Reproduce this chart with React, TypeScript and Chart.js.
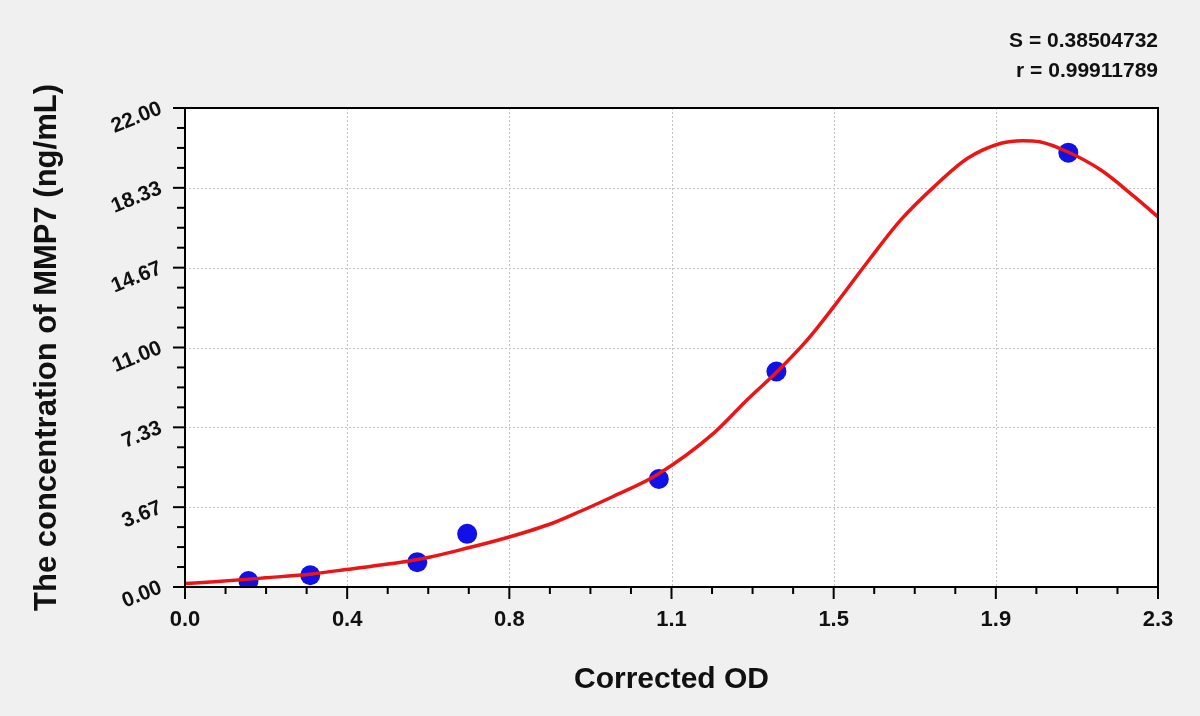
import React, { useEffect, useRef } from "react";
import { Chart, registerables, ChartConfiguration, Plugin } from "chart.js";

Chart.register(...registerables);

// standard points (corrected OD, concentration)
const stdOD = [0.15, 0.296, 0.549, 0.667, 1.12, 1.398, 2.088];
const stdConc = [0.27, 0.54, 1.14, 2.44, 4.96, 9.9, 19.95];

// fitted curve
const fitOD = [
  0, 0.07, 0.19, 0.3, 0.38, 0.55, 0.67, 0.76, 0.87, 0.935, 1.013, 1.116, 1.25,
  1.329, 1.4, 1.471, 1.54, 1.62, 1.692, 1.771, 1.85, 1.929, 1.98, 2.02, 2.086,
  2.165, 2.244, 2.3,
];
const fitConc = [
  0.16, 0.24, 0.42, 0.6, 0.8, 1.26, 1.8, 2.26, 2.94, 3.48, 4.17, 5.16, 7.07,
  8.6, 9.9, 11.35, 13.04, 15.1, 16.86, 18.39, 19.69, 20.38, 20.5, 20.45, 19.99,
  19.15, 17.93, 17.0,
];

const xTickLabels = ["0.0", "0.4", "0.8", "1.1", "1.5", "1.9", "2.3"];
const yTickLabels = ["0.00", "3.67", "7.33", "11.00", "14.67", "18.33", "22.00"];
const statLines = ["S = 0.38504732", "r = 0.99911789"];

const X_MAX = 2.3;
const Y_MAX = 22;
const MINOR_PER_MAJOR = 4;

const FONT = "'Liberation Sans', Arial, sans-serif";

const xTicks = xTickLabels.map((_, i) => (i * X_MAX) / (xTickLabels.length - 1));
const yTicks = yTickLabels.map((_, i) => (i * Y_MAX) / (yTickLabels.length - 1));

const framePlugin: Plugin<"scatter"> = {
  id: "frame",
  beforeDraw(chart) {
    const { ctx, chartArea: a } = chart;
    ctx.save();
    ctx.fillStyle = "#ffffff";
    ctx.fillRect(a.left, a.top, a.right - a.left, a.bottom - a.top);
    // dotted grid
    ctx.strokeStyle = "#c4c4c4";
    ctx.lineWidth = 1;
    ctx.setLineDash([2, 2]);
    const xs = chart.scales.x;
    const ys = chart.scales.y;
    xTicks.forEach((v) => {
      const px = Math.round(xs.getPixelForValue(v)) + 0.5;
      ctx.beginPath();
      ctx.moveTo(px, a.top);
      ctx.lineTo(px, a.bottom);
      ctx.stroke();
    });
    yTicks.forEach((v) => {
      const py = Math.round(ys.getPixelForValue(v)) + 0.5;
      ctx.beginPath();
      ctx.moveTo(a.left, py);
      ctx.lineTo(a.right, py);
      ctx.stroke();
    });
    ctx.restore();
  },
  afterDraw(chart) {
    const { ctx, chartArea: a } = chart;
    const xs = chart.scales.x;
    const ys = chart.scales.y;
    ctx.save();
    ctx.strokeStyle = "#000000";
    ctx.lineWidth = 2;
    ctx.strokeRect(a.left, a.top, a.right - a.left, a.bottom - a.top);

    // tick marks, major and minor
    const xStep = xTicks[1] / MINOR_PER_MAJOR;
    const nx = Math.round(X_MAX / xStep);
    for (let i = 0; i <= nx; i++) {
      const px = xs.getPixelForValue(i * xStep);
      const len = i % MINOR_PER_MAJOR === 0 ? 12 : 7;
      ctx.beginPath();
      ctx.moveTo(px, a.bottom);
      ctx.lineTo(px, a.bottom + len);
      ctx.stroke();
    }
    const yStep = yTicks[1] / MINOR_PER_MAJOR;
    const ny = Math.round(Y_MAX / yStep);
    for (let i = 0; i <= ny; i++) {
      const py = ys.getPixelForValue(i * yStep);
      const len = i % MINOR_PER_MAJOR === 0 ? 12 : 8;
      ctx.beginPath();
      ctx.moveTo(a.left, py);
      ctx.lineTo(a.left - len, py);
      ctx.stroke();
    }

    // fit statistics, top right
    ctx.fillStyle = "#111111";
    ctx.font = `bold 21px ${FONT}`;
    ctx.textAlign = "right";
    ctx.textBaseline = "alphabetic";
    statLines.forEach((t, i) => {
      ctx.fillText(t, a.right, 47 + i * 30);
    });
    ctx.restore();
  },
};

const App: React.FC = () => {
  const chartRef = useRef<HTMLCanvasElement | null>(null);
  const chartInstanceRef = useRef<Chart<"scatter"> | null>(null);

  useEffect(() => {
    document.body.style.margin = "0";
    const canvas = chartRef.current;
    if (!canvas) return;
    const ctx = canvas.getContext("2d");
    if (!ctx) return;

    if (chartInstanceRef.current) {
      chartInstanceRef.current.destroy();
    }

    const config: ChartConfiguration<"scatter"> = {
      type: "scatter",
      data: {
        datasets: [
          {
            label: "fit",
            data: fitOD.map((x, i) => ({ x, y: fitConc[i] })),
            showLine: true,
            borderColor: "#ec1515",
            borderWidth: 3.5,
            pointRadius: 0,
            cubicInterpolationMode: "monotone",
            order: 0,
          } as any,
          {
            label: "standards",
            data: stdOD.map((x, i) => ({ x, y: stdConc[i] })),
            backgroundColor: "#1010e8",
            borderWidth: 0,
            pointRadius: 10,
            order: 1,
          },
        ],
      },
      options: {
        animation: false,
        responsive: true,
        maintainAspectRatio: false,
        layout: { padding: { top: 108, right: 42, left: 0, bottom: 0 } },
        scales: {
          x: {
            type: "linear",
            min: 0,
            max: X_MAX,
            afterFit: (s) => {
              s.height = 129;
            },
            afterBuildTicks: (s) => {
              s.ticks = xTicks.map((value) => ({ value }));
            },
            grid: { display: false, drawTicks: false },
            border: { display: false },
            ticks: {
              padding: 20,
              color: "#111111",
              font: { family: FONT, size: 22, weight: "bold" },
              maxRotation: 0,
              autoSkip: false,
              callback: (_v, i) => xTickLabels[i],
            },
            title: {
              display: true,
              text: "Corrected OD",
              color: "#111111",
              font: { family: FONT, size: 30, weight: "bold" },
              padding: { top: 0, bottom: 18 },
            },
          },
          y: {
            type: "linear",
            min: 0,
            max: Y_MAX,
            afterFit: (s) => {
              s.width = 185;
            },
            afterBuildTicks: (s) => {
              s.ticks = yTicks.map((value) => ({ value }));
            },
            grid: { display: false, drawTicks: false },
            border: { display: false },
            ticks: {
              padding: 24,
              color: "#111111",
              minRotation: 22,
              maxRotation: 22,
              autoSkip: false,
              font: { family: FONT, size: 21, weight: "bold" },
              callback: (_v, i) => yTickLabels[i],
            },
            title: {
              display: true,
              text: "The concentration of MMP7 (ng/mL)",
              color: "#111111",
              font: { family: FONT, size: 31, weight: "bold" },
              padding: { top: 29, bottom: 0 },
            },
          },
        },
        plugins: {
          legend: { display: false },
          tooltip: { enabled: false },
        },
      },
      plugins: [framePlugin],
    };

    chartInstanceRef.current = new Chart(ctx, config);

    return () => {
      if (chartInstanceRef.current) {
        chartInstanceRef.current.destroy();
        chartInstanceRef.current = null;
      }
    };
  }, []);

  return (
    <div style={{ width: 1200, height: 716, background: "#f0f0f0", position: "relative" }}>
      <canvas ref={chartRef} />
    </div>
  );
};

export default App;
